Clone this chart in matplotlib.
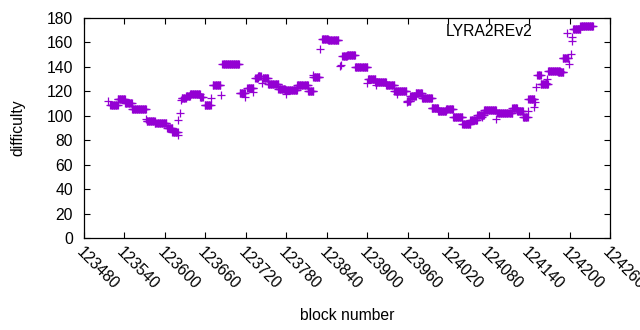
import numpy as np
import matplotlib
matplotlib.use("Agg")
import matplotlib.pyplot as plt

plt.rcParams['font.family'] = ['Liberation Sans', 'DejaVu Sans']

# Runs of consecutive blocks with (nearly) constant difficulty: start, end, value
run_start = [123520, 123530, 123541, 123551, 123573, 123585, 123603, 123611,
             123625, 123631, 123637, 123652, 123659, 123671, 123685, 123711,
             123722, 123734, 123738, 123745, 123753, 123768, 123778, 123796,
             123812, 123820, 123833, 123842, 123863, 123870, 123882, 123901,
             123912, 123928, 123940, 123959, 123964, 123972, 123981, 123996,
             124005, 124017, 124027, 124041, 124053, 124063, 124073, 124093,
             124115, 124122, 124131, 124139, 124152, 124157, 124168, 124183,
             124190, 124205, 124216]
run_end = [123530, 123541, 123551, 123572, 123585, 123602, 123611, 123619,
           123631, 123637, 123652, 123656, 123668, 123682, 123710, 123719,
           123731, 123738, 123742, 123753, 123768, 123778, 123796, 123812,
           123820, 123829, 123842, 123857, 123870, 123882, 123900, 123912,
           123928, 123940, 123958, 123964, 123972, 123981, 123996, 124005,
           124017, 124027, 124041, 124053, 124063, 124073, 124091, 124115,
           124122, 124131, 124138, 124148, 124157, 124168, 124186, 124190,
           124198, 124216, 124235]
run_value = [109, 114, 110.5, 105.5, 96, 94, 90, 86.5,
             114.5, 116.5, 117.5, 115.5, 108.7, 125, 142.5, 118.4,
             122.5, 130.6, 132.5, 131.2, 126, 122, 121.3, 125.2,
             120, 132, 163, 162, 148.5, 150, 139.6, 129.8,
             127.5, 125.5, 120.5, 112.3, 116.5, 118.4, 114.5, 106,
             104, 105.5, 99, 93.5, 96.5, 100.7, 104.5, 102,
             106.5, 104, 98.7, 114, 133, 126, 137, 135.8,
             147.5, 171, 173.5]

# Isolated blocks
single_block = [123516, 123519, 123572, 123619, 123620, 123622, 123624, 123669,
                123683, 123719, 123731, 123744, 123779, 123820, 123830, 123860,
                123861, 123899, 123913, 123944, 123959, 123996, 124070, 124091,
                124138, 124148, 124149, 124150, 124165, 124167, 124190, 124196,
                124199, 124202, 124204, 124204]
single_value = [112.5, 108.5, 97.5, 84.5, 96.5, 102, 113, 114.3,
                117, 115.6, 119.7, 126.5, 117.5, 133.5, 154.4, 140.5,
                141.5, 126.5, 125.5, 118, 111.5, 106, 99, 97.7,
                104.2, 107, 111.5, 123.3, 126.5, 129.8, 135.6, 168,
                142, 150.3, 164.2, 161.5]

xticks = list(range(123480, 124261, 60))
yticks = list(range(0, 181, 20))

blocks = []
values = []
for s, e, v in zip(run_start, run_end, run_value):
    b = np.arange(s, e + 1)
    blocks.extend(b.tolist())
    values.extend([v] * len(b))
blocks.extend(single_block)
values.extend(single_value)

FS = 11.3
fig = plt.figure(figsize=(6.4, 3.3), dpi=100)
ax = fig.add_axes([84/640, 92/330, 526/640, 220/330])
color = '#9400d3'
ax.plot(blocks, values, linestyle='none', marker='+', markersize=5.2,
        markeredgewidth=0.9, color=color)

ax.set_xlim(123480, 124260)
ax.set_ylim(0, 180)
ax.set_xticks(xticks)
ax.set_yticks(yticks)
ax.set_xticklabels([str(t) for t in xticks], rotation=-45, ha='left', va='top',
                   rotation_mode='anchor', fontsize=FS)
ax.set_yticklabels([str(t) for t in yticks], fontsize=FS)
ax.tick_params(direction='in', top=True, right=True, length=4, width=0.8,
               pad=8, colors='black')
ax.tick_params(axis='x', pad=5)
for sp in ax.spines.values():
    sp.set_linewidth(0.9)

ax.set_xlabel('block number', fontsize=FS, labelpad=11)
ax.set_ylabel('difficulty', fontsize=FS, labelpad=15)
ax.text(0.853, 0.94, 'LYRA2REv2', transform=ax.transAxes, ha='right',
        va='center', fontsize=FS)

fig.savefig('out.png', dpi=100)
